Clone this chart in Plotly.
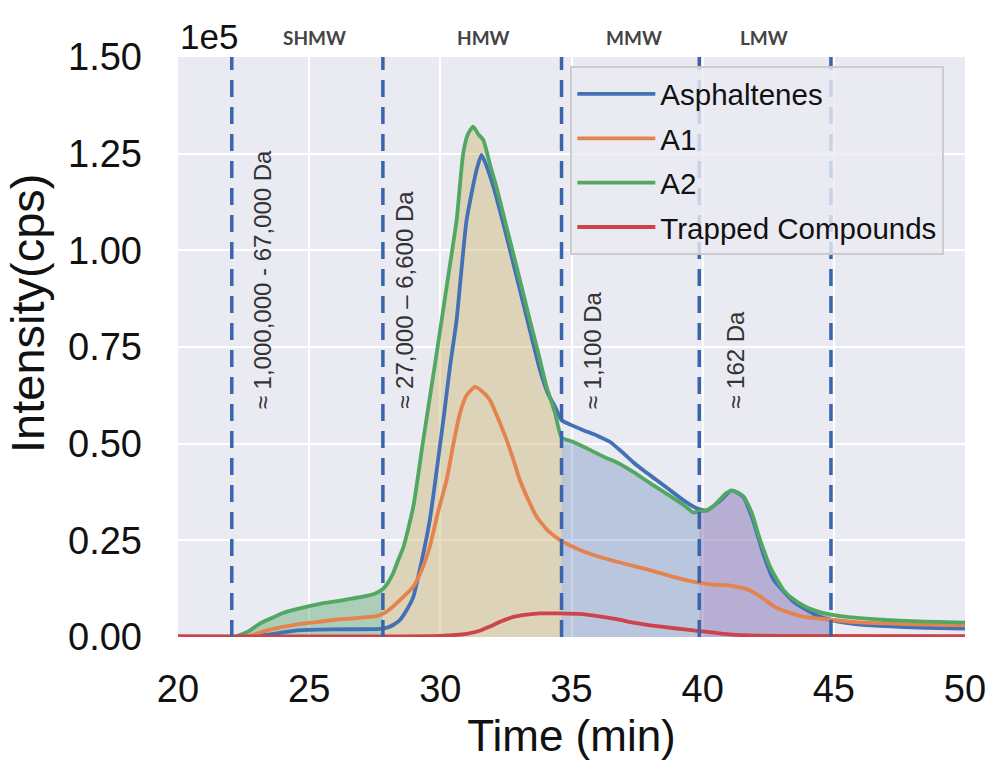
import plotly.graph_objects as go

# ---------------- data (intensity in units of 1e5 cps) ----------------
boundaries = [22.05, 27.81, 34.62, 39.87, 44.89]
region_names = ["SHMW", "HMW", "MMW", "LMW"]
region_name_x = [25.2, 31.65, 37.4, 42.35]
mass_labels = ["≈ 1,000,000 - 67,000 Da", "≈ 27,000 – 6,600 Da", "≈ 1,100 Da", "≈ 162 Da"]
mass_label_x = [23.2, 28.65, 35.8, 41.27]
region_fill_colors = ["rgba(85,168,104,0.42)", "rgba(204,185,116,0.45)",
                      "rgba(76,114,176,0.30)", "rgba(129,114,179,0.50)"]

asph_t = [20.0, 21.0, 22.2, 23.0, 23.4, 24.4, 25.3, 26.5, 27.7, 28.0, 28.2, 28.46, 28.7,
          28.97, 29.3, 29.6, 29.98, 30.15, 30.37, 30.62, 31.0, 31.38, 31.57, 31.75, 32.02,
          32.53, 33.16, 33.8, 34.1, 34.37, 34.62, 35.0, 35.45, 36.0, 36.46, 36.9, 37.35,
          37.8, 38.24, 38.75, 39.26, 39.77, 40.15, 40.66, 41.1, 41.55, 41.93, 42.31, 42.69,
          43.45, 44.34, 44.98, 46.0, 47.0, 48.0, 49.0, 50.0]
asph_i = [0.0, 0.0, 0.0, 0.004, 0.006, 0.016, 0.019, 0.020, 0.021, 0.025, 0.031, 0.044, 0.068,
          0.104, 0.200, 0.303, 0.492, 0.580, 0.700, 0.820, 1.078, 1.208, 1.247, 1.220, 1.165,
          1.035, 0.863, 0.690, 0.630, 0.596, 0.561, 0.548, 0.535, 0.520, 0.505, 0.480, 0.452,
          0.428, 0.406, 0.380, 0.354, 0.333, 0.327, 0.352, 0.379, 0.362, 0.300, 0.215, 0.150,
          0.092, 0.056, 0.042, 0.032, 0.028, 0.025, 0.023, 0.022]

a1_t = [20.0, 22.2, 22.8, 23.38, 24.0, 24.39, 25.2, 25.92, 26.8, 27.57, 27.81, 28.0, 28.33,
        28.97, 29.3, 29.6, 29.9, 30.24, 30.5, 30.75, 31.0, 31.32, 31.6, 31.89, 32.2, 32.53,
        32.8, 33.03, 33.35, 33.67, 34.1, 34.56, 35.32, 36.08, 37.0, 37.99, 38.8, 39.64, 40.3,
        41.04, 41.5, 41.8, 42.3, 42.75, 43.3, 43.83, 44.98, 46.0, 47.0, 48.0, 50.0]
a1_i = [0.0, 0.0, 0.004, 0.017, 0.026, 0.031, 0.038, 0.044, 0.049, 0.054, 0.060, 0.068, 0.087,
        0.130, 0.175, 0.234, 0.320, 0.406, 0.500, 0.579, 0.625, 0.647, 0.635, 0.613, 0.565,
        0.509, 0.455, 0.406, 0.355, 0.311, 0.275, 0.251, 0.225, 0.207, 0.190, 0.173, 0.157,
        0.143, 0.136, 0.133, 0.127, 0.120, 0.100, 0.078, 0.063, 0.053, 0.044, 0.038, 0.035,
        0.033, 0.030]

a2_t = [20.0, 22.05, 22.3, 22.7, 23.13, 23.6, 24.0, 24.4, 25.0, 25.5, 26.0, 26.5, 27.0, 27.5,
        27.81, 28.0, 28.2, 28.4, 28.6, 28.97, 29.35, 29.6, 29.86, 30.24, 30.62, 30.87, 31.05,
        31.25, 31.45, 31.64, 31.9, 32.14, 32.45, 32.78, 33.1, 33.41, 33.75, 34.05, 34.37,
        34.62, 35.0, 35.7, 36.2, 36.72, 37.35, 37.99, 38.5, 39.0, 39.4, 39.64, 39.87, 40.15,
        40.4, 40.66, 40.9, 41.1, 41.3, 41.55, 41.75, 41.93, 42.1, 42.31, 42.55, 42.82, 43.1,
        43.45, 43.9, 44.34, 44.89, 45.5, 46.0, 47.0, 48.0, 49.0, 50.0]
a2_i = [0.0, 0.0, 0.004, 0.015, 0.035, 0.050, 0.062, 0.070, 0.080, 0.087, 0.092, 0.098, 0.104,
        0.112, 0.124, 0.140, 0.165, 0.200, 0.234, 0.337, 0.510, 0.620, 0.734, 0.906, 1.078,
        1.250, 1.300, 1.320, 1.300, 1.285, 1.220, 1.164, 1.080, 0.992, 0.905, 0.820, 0.730,
        0.647, 0.580, 0.516, 0.506, 0.484, 0.467, 0.452, 0.427, 0.398, 0.376, 0.354, 0.335,
        0.322, 0.325, 0.328, 0.338, 0.356, 0.372, 0.378, 0.375, 0.364, 0.340, 0.310, 0.270,
        0.228, 0.185, 0.150, 0.120, 0.098, 0.079, 0.067, 0.058, 0.052, 0.049, 0.044, 0.041,
        0.039, 0.037]

trap_t = [20.0, 30.0, 31.0, 31.5, 31.89, 32.3, 32.78, 33.3, 33.8, 34.5, 35.4, 36.0, 36.72,
          37.35, 38.0, 39.0, 39.8, 40.8, 41.8, 43.0, 50.0]
trap_i = [0.002, 0.003, 0.008, 0.016, 0.027, 0.040, 0.052, 0.058, 0.061, 0.061, 0.059, 0.054,
          0.046, 0.037, 0.030, 0.022, 0.016, 0.008, 0.004, 0.003, 0.002]

series_names = ["Asphaltenes", "A1", "A2", "Trapped Compounds"]
series_t = [asph_t, a1_t, a2_t, trap_t]
series_i = [asph_i, a1_i, a2_i, trap_i]
series_colors = ["#4470B5", "#E5834E", "#52A862", "#CC4449"]

x_ticks = [20, 25, 30, 35, 40, 45, 50]
y_ticks = [0.0, 0.25, 0.5, 0.75, 1.0, 1.25, 1.5]

FONT = "Liberation Sans, Arial, sans-serif"

fig = go.Figure()

# shaded regions under the A2 trace
for k in range(len(region_names)):
    lo, hi = boundaries[k], boundaries[k + 1]
    sub = [(t, v) for t, v in zip(a2_t, a2_i) if lo <= t <= hi]
    fig.add_trace(go.Scatter(
        x=[p[0] for p in sub], y=[p[1] for p in sub], mode="lines",
        line=dict(width=0, shape="spline", smoothing=0.5), fill="tozeroy",
        fillcolor=region_fill_colors[k], showlegend=False, hoverinfo="skip"))

# curves
for name, t, v, c in zip(series_names, series_t, series_i, series_colors):
    fig.add_trace(go.Scatter(x=t, y=v, mode="lines", name=name, legendgroup=name,
                             line=dict(color=c, width=3.8, shape="spline", smoothing=0.5)))

# dashed region boundaries
for b in boundaries:
    fig.add_shape(type="line", x0=b, x1=b, xref="x", y0=0, y1=1, yref="paper",
                  line=dict(color="#3A65AD", width=3.5, dash="17px,10px"), layer="above")

# region names at top
for name, xc in zip(region_names, region_name_x):
    fig.add_annotation(x=xc, xref="x", y=1.033, yref="paper", text="<b>" + name + "</b>",
                       showarrow=False, xanchor="center", yanchor="middle",
                       font=dict(family="Lato, Open Sans, sans-serif", size=19, color="#444444"))

# rotated mass labels
for txt, xc in zip(mass_labels, mass_label_x):
    fig.add_annotation(x=xc, xref="x", y=0.585, yref="y", text=txt, textangle=-90,
                       showarrow=False, xanchor="center", yanchor="bottom",
                       font=dict(family=FONT, size=24, color="#333333"))

# offset text
fig.add_annotation(x=0, xref="paper", y=1.035, yref="paper", text="1e5", showarrow=False,
                   xanchor="left", yanchor="middle", font=dict(family=FONT, size=35, color="#111"))

# y-axis title
fig.add_annotation(x=-0.1905, xref="paper", y=0.557, yref="paper", text="Intensity(cps)",
                   textangle=-90, showarrow=False, xanchor="center", yanchor="middle",
                   font=dict(family=FONT, size=47, color="#111"))

fig.update_layout(
    width=992, height=760,
    margin=dict(l=178, r=27, t=57, b=123),
    paper_bgcolor="white", plot_bgcolor="#EAEAF2",
    font=dict(family=FONT, color="#111"),
    showlegend=True,
    legend=dict(x=0.4985, y=0.984, xanchor="left", yanchor="top",
                bgcolor="rgba(234,234,242,0.82)", bordercolor="#CCCCCC", borderwidth=2,
                font=dict(family=FONT, size=29.5, color="#111"), tracegroupgap=3,
                itemwidth=78),
    xaxis=dict(range=[20, 50], tickvals=x_ticks, ticktext=[str(v) for v in x_ticks],
               showgrid=True, gridcolor="white", gridwidth=2, zeroline=False, automargin=False,
               showline=False, ticks="", tickfont=dict(size=38), ticklabelstandoff=26,
               title=dict(text="Time (min)", font=dict(size=44), standoff=16)),
    yaxis=dict(range=[0, 1.5], tickvals=y_ticks, ticktext=["%.2f" % v for v in y_ticks],
               showgrid=True, gridcolor="white", gridwidth=2, zeroline=False, automargin=False,
               showline=False, ticks="", tickfont=dict(size=38), ticklabelstandoff=35),
)

fig.write_html("out.html", config={"displayModeBar": False},
               post_script="document.body.style.margin='0';")
